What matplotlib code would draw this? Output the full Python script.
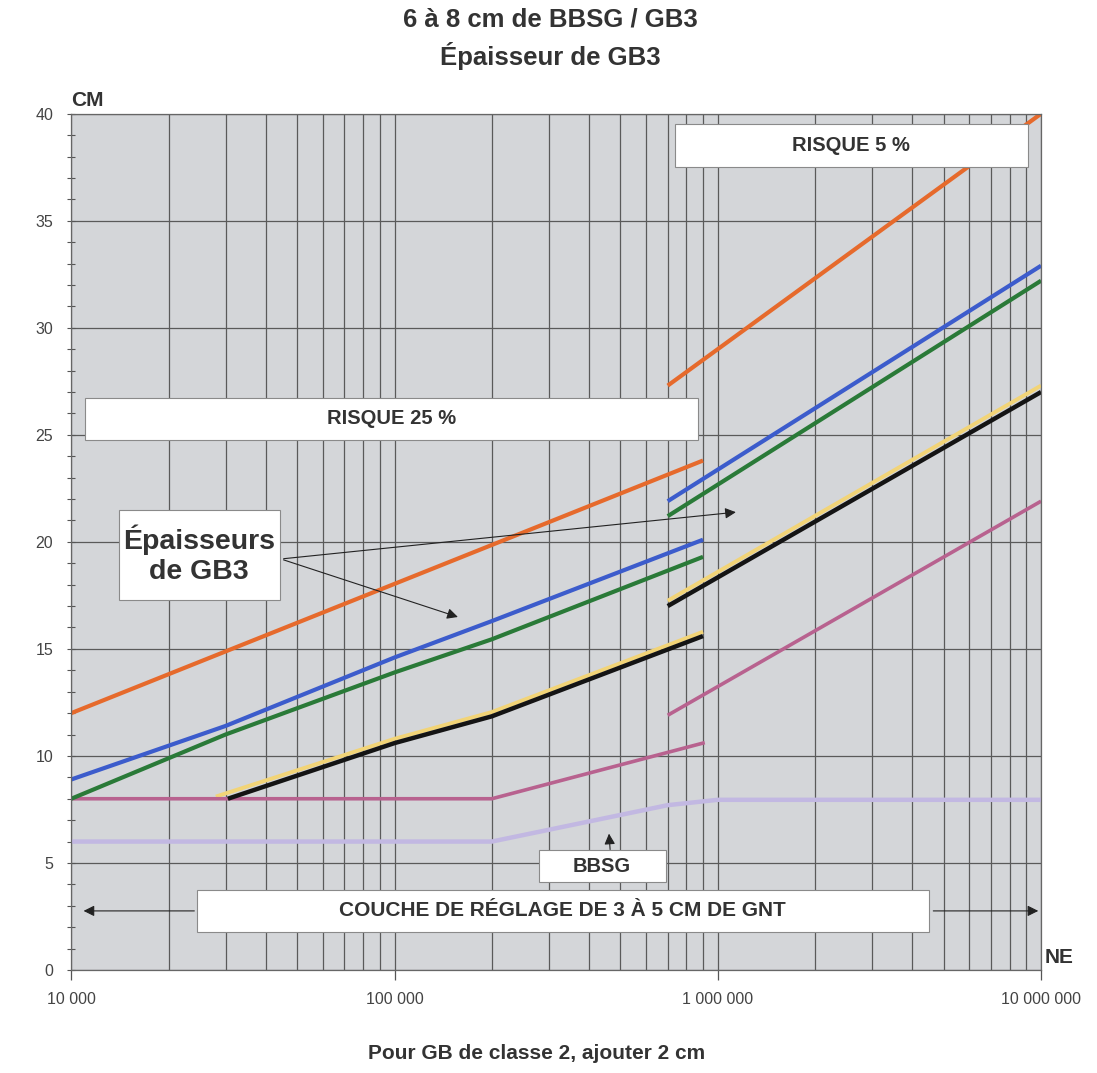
import numpy as np
import matplotlib
matplotlib.use("Agg")
import matplotlib.pyplot as plt
from matplotlib.patches import Rectangle
from matplotlib.ticker import FixedLocator, NullFormatter, LogLocator

plt.rcParams['font.family'] = ['Liberation Sans', 'DejaVu Sans']

# Risque 25 % (partie gauche)
orange25_x = [1e4, 9e5]
orange25_y = [12.0, 23.8]
blue25_x = [1e4, 3e4, 1e5, 2e5, 9e5]
blue25_y = [8.9, 11.4, 14.6, 16.3, 20.1]
green25_x = [1e4, 3e4, 1e5, 2e5, 9e5]
green25_y = [8.0, 11.0, 13.9, 15.45, 19.3]
yellow25_x = [2.8e4, 1e5, 2e5, 9e5]
yellow25_y = [8.1, 10.8, 12.05, 15.8]
black25_x = [3.05e4, 1e5, 2e5, 9e5]
black25_y = [8.0, 10.6, 11.85, 15.6]
pink25_x = [1e4, 2e5, 9e5]
pink25_y = [8.0, 8.0, 10.6]

# Risque 5 % (partie droite)
orange5_x = [7e5, 1e7]
orange5_y = [27.3, 40.0]
blue5_x = [7e5, 1e7]
blue5_y = [21.9, 32.9]
green5_x = [7e5, 1e7]
green5_y = [21.2, 32.2]
yellow5_x = [7e5, 1e7]
yellow5_y = [17.25, 27.3]
black5_x = [7e5, 1e7]
black5_y = [17.0, 27.0]
pink5_x = [7e5, 1e7]
pink5_y = [11.9, 21.9]

# BBSG
bbsg_x = [1e4, 2e5, 7e5, 1e6, 1e7]
bbsg_y = [6.0, 6.0, 7.7, 7.95, 7.95]

x_ticks = [1e4, 1e5, 1e6, 1e7]
x_labels = ['10 000', '100 000', '1 000 000', '10 000 000']
y_ticks = [0, 5, 10, 15, 20, 25, 30, 35, 40]

ORANGE = '#e66a2c'
BLUE = '#3c5ccc'
GREEN = '#2a7a38'
BLACK = '#141414'
YELLOW = '#f2d477'
PINK = '#b8628f'
LAVENDER = '#c2b8e2'

fig = plt.figure(figsize=(10.97, 10.73), dpi=100)
ax = fig.add_axes([0.065, 0.096, 0.884, 0.798])
ax.set_facecolor('#d4d6d9')
ax.set_xscale('log')
ax.set_xlim(1e4, 1e7)
ax.set_ylim(0, 40)

# grille
ax.xaxis.set_minor_locator(LogLocator(base=10, subs=np.arange(2, 10)))
ax.xaxis.set_minor_formatter(NullFormatter())
ax.grid(True, which='both', axis='x', color='#5a5a5a', lw=0.9)
ax.grid(True, which='major', axis='y', color='#5a5a5a', lw=0.9)
ax.set_axisbelow(True)

ax.set_xticks(x_ticks)
ax.set_xticklabels(x_labels)
ax.set_yticks(y_ticks)
ax.yaxis.set_minor_locator(FixedLocator(np.arange(0, 41, 1)))
ax.tick_params(axis='x', which='major', direction='out', length=7, width=0.9,
               pad=9, labelsize=11.5, labelcolor='#444444', color='#555555')
ax.tick_params(axis='x', which='minor', length=0)
ax.tick_params(axis='y', which='both', direction='inout', length=6, width=0.8,
               pad=10, labelsize=11.5, labelcolor='#444444', color='#555555')
for s in ax.spines.values():
    s.set_color('#666666')
    s.set_linewidth(0.9)

# courbes
lw = 3.0
ax.plot(yellow25_x, yellow25_y, color=YELLOW, lw=2.8, solid_capstyle='butt')
ax.plot(yellow5_x, yellow5_y, color=YELLOW, lw=2.8, solid_capstyle='butt')
ax.plot(bbsg_x, bbsg_y, color=LAVENDER, lw=3.2)
ax.plot(pink25_x, pink25_y, color=PINK, lw=2.6)
ax.plot(pink5_x, pink5_y, color=PINK, lw=2.6, solid_capstyle='butt')
ax.plot(orange25_x, orange25_y, color=ORANGE, lw=lw, solid_capstyle='butt')
ax.plot(orange5_x, orange5_y, color=ORANGE, lw=lw, solid_capstyle='butt')
ax.plot(green25_x, green25_y, color=GREEN, lw=lw, solid_capstyle='butt')
ax.plot(green5_x, green5_y, color=GREEN, lw=lw, solid_capstyle='butt')
ax.plot(blue25_x, blue25_y, color=BLUE, lw=lw, solid_capstyle='butt')
ax.plot(blue5_x, blue5_y, color=BLUE, lw=lw, solid_capstyle='butt')
ax.plot(black25_x, black25_y, color=BLACK, lw=3.2, solid_capstyle='butt')
ax.plot(black5_x, black5_y, color=BLACK, lw=3.2, solid_capstyle='butt')


def box(x0, x1, y0, y1, text, size, ls=1.0):
    ax.add_patch(Rectangle((x0, y0), x1 - x0, y1 - y0, facecolor='white',
                           edgecolor='#8a8a8a', lw=0.8, zorder=5))
    ax.text(np.sqrt(x0 * x1), (y0 + y1) / 2, text, ha='center', va='center',
            fontsize=size, fontweight='bold', color='#333333', zorder=6,
            linespacing=ls)


box(1.1e4, 8.7e5, 24.77, 26.73, 'RISQUE 25 %', 14.5)
box(7.36e5, 9.08e6, 37.5, 39.5, 'RISQUE 5 %', 14.5)
box(1.4e4, 4.41e4, 17.3, 21.5, 'Épaisseurs\nde GB3', 20.5, ls=1.2)
box(2.79e5, 6.9e5, 4.1, 5.6, 'BBSG', 14.5)
box(2.45e4, 4.49e6, 1.78, 3.74, 'COUCHE DE RÉGLAGE DE 3 À 5 CM DE GNT', 15)

arrow = dict(arrowstyle='-|>', color='#222222', lw=0.8, mutation_scale=16)
ax.annotate('', xy=(1.16e6, 21.4), xytext=(4.45e4, 19.2), arrowprops=arrow, zorder=7)
ax.annotate('', xy=(1.6e5, 16.45), xytext=(4.45e4, 19.2), arrowprops=arrow, zorder=7)
ax.annotate('', xy=(4.6e5, 6.5), xytext=(4.65e5, 5.5), arrowprops=arrow, zorder=7)
ax.annotate('', xy=(1.07e4, 2.76), xytext=(2.45e4, 2.76), arrowprops=arrow, zorder=4)
ax.annotate('', xy=(1.0e7, 2.76), xytext=(4.55e6, 2.76), arrowprops=arrow, zorder=4)

# libellés des axes
ax.text(0.0, 1.004, 'CM', transform=ax.transAxes, ha='left', va='bottom',
        fontsize=15, fontweight='bold', color='#333333')
ax.text(1.004, 0.004, 'NE', transform=ax.transAxes, ha='left', va='bottom',
        fontsize=15, fontweight='bold', color='#333333')

fig.text(0.502, 0.982, '6 à 8 cm de BBSG / GB3', ha='center', va='center',
         fontsize=18.5, fontweight='bold', color='#333333')
fig.text(0.502, 0.948, 'Épaisseur de GB3', ha='center', va='center',
         fontsize=18.5, fontweight='bold', color='#333333')
fig.text(0.489, 0.0186, 'Pour GB de classe 2, ajouter 2 cm', ha='center',
         va='center', fontsize=15, fontweight='bold', color='#333333')

fig.savefig('out.png', dpi=100, facecolor='white')
